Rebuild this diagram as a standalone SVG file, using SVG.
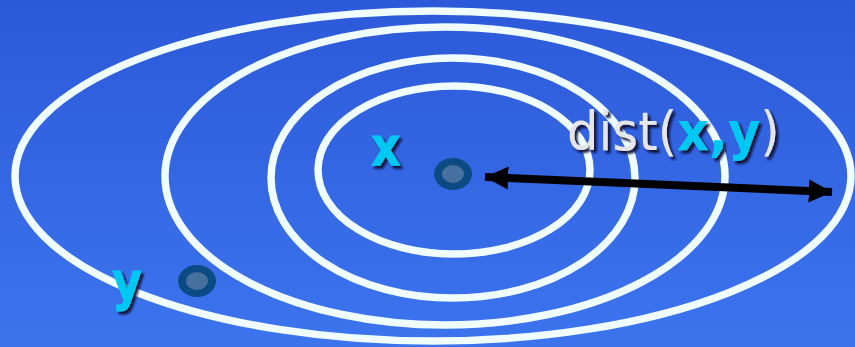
<svg xmlns="http://www.w3.org/2000/svg" width="855" height="347" viewBox="0 0 855 347">
<defs>
<linearGradient id="bg" x1="0" y1="0" x2="0" y2="1">
<stop offset="0" stop-color="#2c59d9"/>
<stop offset="1" stop-color="#3c74ee"/>
</linearGradient>
<filter id="shadow" x="-20%" y="-20%" width="140%" height="140%">
<feDropShadow dx="3" dy="3" stdDeviation="1" flood-color="#0a1030" flood-opacity="0.95"/>
</filter>
<marker id="ah" viewBox="0 0 10 10" refX="10" refY="5" markerWidth="2.9" markerHeight="3" orient="auto-start-reverse" markerUnits="strokeWidth">
<path d="M0,0 L10,5 L0,10 Z" fill="#000"/>
</marker>
<style>
.ring{fill:none;stroke:#effdff;stroke-width:7.5}
.dot{fill:#0b4a82}
.dotin{fill:#46709e}
.lbl{font-family:"DejaVu Sans",Verdana,sans-serif;font-weight:bold;font-size:54px;fill:#00c8f2;stroke:#00c8f2;stroke-width:0.8;filter:url(#shadow)}
.reg{font-family:"DejaVu Sans",Verdana,sans-serif;font-size:54px;fill:#e6e6ea;filter:url(#shadow)}
.bold{font-weight:bold;fill:#00c8f2}
</style>
</defs>
<rect width="855" height="347" fill="url(#bg)"/>
<g id="rings">
<ellipse class="ring" cx="433" cy="176" rx="418" ry="165"/>
<ellipse class="ring" cx="445" cy="176" rx="280" ry="149"/>
<ellipse class="ring" cx="453" cy="178" rx="182" ry="120"/>
<ellipse class="ring" cx="454" cy="170" rx="136" ry="84"/>
</g>
<g id="node-x">
<ellipse class="dot" cx="453" cy="174" rx="19" ry="16"/>
<ellipse class="dotin" cx="453" cy="174" rx="11" ry="9"/>
<text class="lbl" transform="translate(371,165) scale(0.85,1)" x="0" y="0">x</text>
</g>
<g id="node-y">
<ellipse class="dot" cx="197" cy="281" rx="19" ry="16"/>
<ellipse class="dotin" cx="197" cy="281" rx="11" ry="9"/>
<text class="lbl" transform="translate(112,300) scale(0.85,1)" x="0" y="0">y</text>
</g>
<g id="connectors">
<line x1="485" y1="177" x2="832" y2="192" stroke="#000" stroke-width="8" marker-start="url(#ah)" marker-end="url(#ah)"/>
</g>
<g id="label-dist">
<text class="reg" transform="translate(567,150) scale(0.92,1)" x="0" y="0">dist(<tspan class="bold">x,y</tspan>)</text>
</g>
</svg>
